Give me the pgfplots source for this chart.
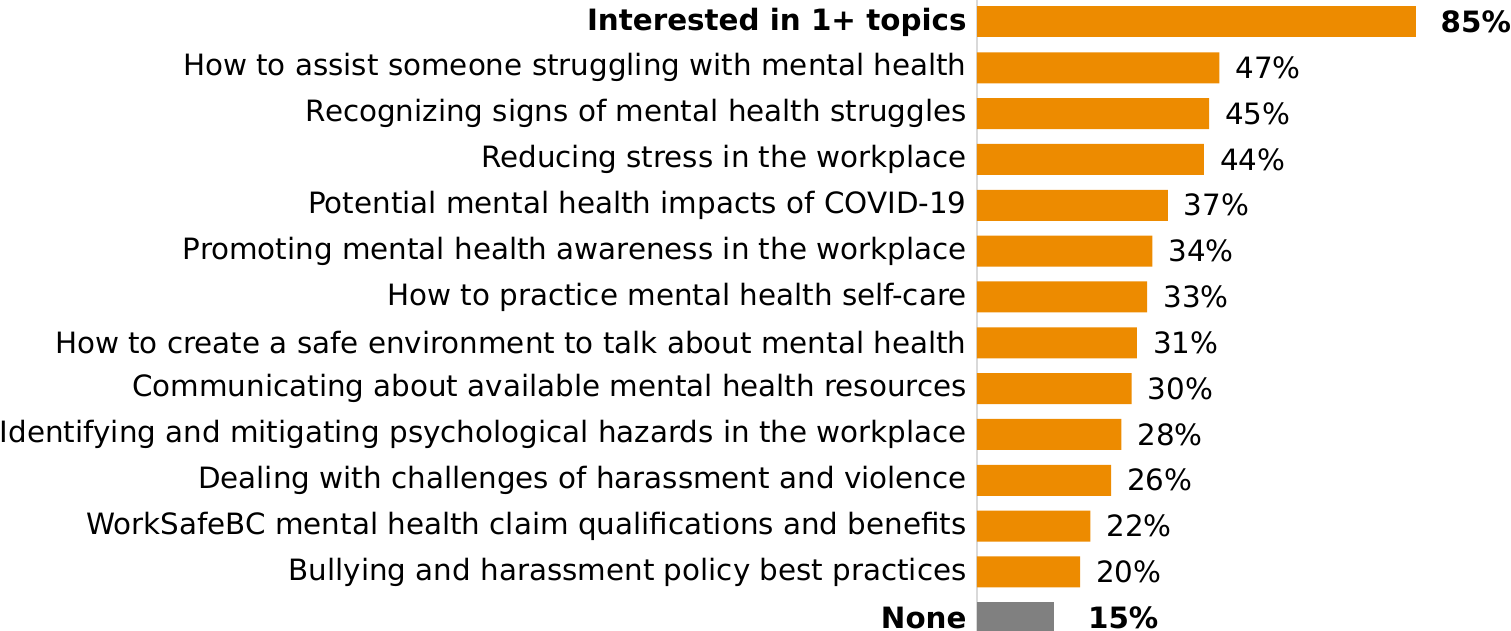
\documentclass[border=0pt]{standalone}
\usepackage{pgfplots}
\pgfplotsset{compat=1.18}
\usepackage{fontspec}
\setmainfont{DejaVu Sans}
\definecolor{barorange}{HTML}{ED8B00}
\definecolor{bargray}{HTML}{808080}
\definecolor{axgray}{HTML}{D9D9D9}
\begin{document}
\begin{tikzpicture}
\begin{axis}[
  scale only axis,
  width=266.5pt, height=320pt,
  xbar, bar width=0.676, bar shift=0pt,
  y dir=reverse,
  xmin=0, xmax=101.7,
  ymin=-0.48, ymax=13.28,
  axis x line=none,
  axis y line*=left,
  y axis line style={axgray, line width=1pt},
  ytick={0,...,13},
  yticklabels={
    \textbf{Interested in 1+ topics},
    How to assist someone struggling with mental health,
    Recognizing signs of mental health struggles,
    Reducing stress in the workplace,
    Potential mental health impacts of COVID-19,
    Promoting mental health awareness in the workplace,
    How to practice mental health self-care,
    How to create a safe environment to talk about mental health,
    Communicating about available mental health resources,
    Identifying and mitigating psychological hazards in the workplace,
    Dealing with challenges of harassment and violence,
    WorkSafeBC mental health claim qualifications and benefits,
    Bullying and harassment policy best practices,
    \textbf{None}},
  major tick length=0pt,
  /pgf/number format/assume math mode=true,
  yticklabel style={font=\fontsize{14.9}{17}\selectfont, inner sep=0pt, xshift=-5pt},
  nodes near coords={\pgfmathprintnumber{\pgfplotspointmeta}\%},
  nodes near coords style={font=\fontsize{14.9}{17}\selectfont, anchor=west, inner sep=0pt, xshift=8pt},
]
\addplot[fill=barorange, draw=none] coordinates {
  (47,1) (45,2) (44,3) (37,4) (34,5) (33,6) (31,7) (30,8) (28,9) (26,10) (22,11) (20,12)
};
\addplot[fill=barorange, draw=none, nodes near coords style={font=\fontsize{14.9}{17}\selectfont\bfseries, xshift=4.5pt}] coordinates {(85,0)};
\addplot[fill=bargray, draw=none, nodes near coords style={font=\fontsize{14.9}{17}\selectfont\bfseries, xshift=9pt}] coordinates {(15,13)};
\end{axis}
\coordinate (L) at (current bounding box.west);
\coordinate (R) at (current bounding box.east);
\pgfresetboundingbox
\useasboundingbox (L |- current axis.south) rectangle (R |- current axis.north);
\end{tikzpicture}
\end{document}
